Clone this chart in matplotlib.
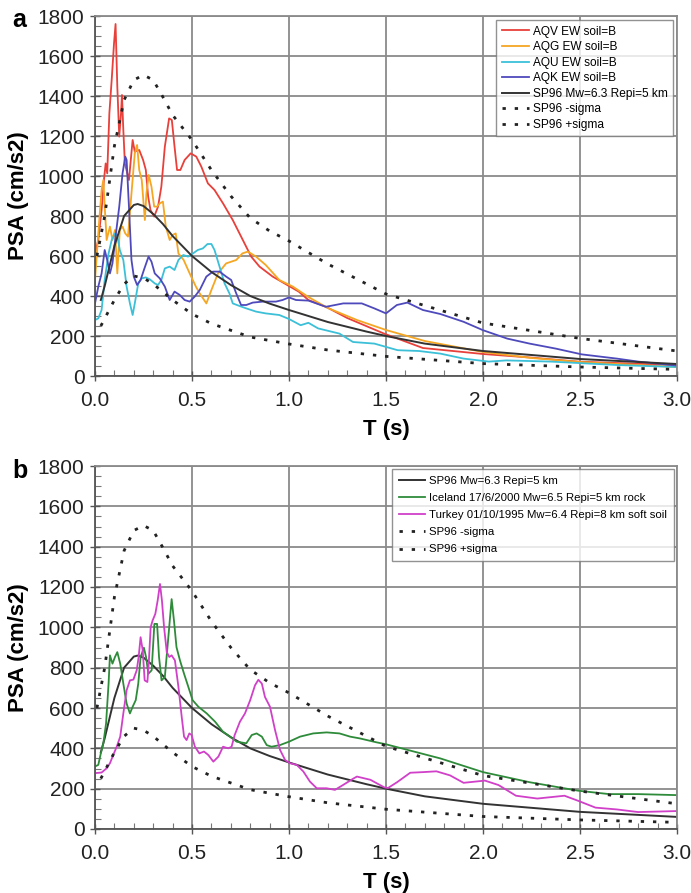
import matplotlib
matplotlib.use("Agg")
import matplotlib.pyplot as plt
from matplotlib.ticker import MultipleLocator
import numpy as np

plt.rcParams['font.family'] = ['Liberation Sans', 'DejaVu Sans']

# ---------------- data ----------------
sp96_T   = [0.03, 0.05, 0.1, 0.15, 0.2, 0.22, 0.25, 0.3, 0.35, 0.4, 0.5, 0.6, 0.7, 0.8, 0.9, 1.0, 1.2, 1.4, 1.5, 1.7, 2.0, 2.5, 3.0]
sp96_psa = [380, 450, 650, 800, 855, 860, 850, 810, 760, 700, 600, 520, 455, 400, 362, 330, 270, 222, 200, 162, 125, 85, 60]

plus_T   = [0.01, 0.05, 0.1, 0.15, 0.2, 0.25, 0.3, 0.35, 0.4, 0.5, 0.6, 0.7, 0.8, 0.9, 1.0, 1.2, 1.5, 2.0, 2.5, 3.0]
plus_psa = [600, 800, 1150, 1380, 1480, 1505, 1480, 1395, 1305, 1180, 1030, 900, 790, 725, 675, 560, 410, 265, 188, 125]

minus_T   = [0.03, 0.1, 0.15, 0.2, 0.25, 0.3, 0.4, 0.5, 0.6, 0.8, 1.0, 1.2, 1.5, 2.0, 2.5, 3.0]
minus_psa = [250, 380, 460, 500, 490, 460, 380, 310, 262, 195, 160, 130, 98, 62, 45, 33]

aqv_T   = [0.0, 0.017, 0.034, 0.046, 0.055, 0.063, 0.074, 0.086, 0.098, 0.106, 0.115, 0.125, 0.134, 0.139, 0.146, 0.154,
           0.175, 0.194, 0.205, 0.228, 0.248, 0.262, 0.274, 0.286, 0.305, 0.325, 0.342, 0.36, 0.382, 0.396, 0.41, 0.423,
           0.44, 0.462, 0.493, 0.522, 0.548, 0.582, 0.616, 0.66, 0.71, 0.762, 0.805, 0.848, 0.916, 1.0, 1.05, 1.1, 1.19,
           1.3, 1.49, 1.69, 2.0, 2.25, 2.49, 3.0]
aqv_psa = [613, 680, 830, 980, 1063, 1013, 1313, 1480, 1663, 1760, 1447, 1197, 1313, 1405, 1230, 1063,
           980, 1180, 1122, 1130, 1080, 1030, 897, 830, 797, 847, 947, 1147, 1288, 1280, 1147, 1030,
           1030, 1080, 1113, 1097, 1047, 963, 930, 863, 780, 680, 597, 547, 497, 450, 422, 380, 346,
           290, 212, 140, 110, 92, 72, 54]

aqg_T   = [0.0, 0.022, 0.034, 0.043, 0.05, 0.06, 0.077, 0.09, 0.103, 0.115, 0.128, 0.142, 0.156, 0.17, 0.188, 0.205,
           0.217, 0.228, 0.241, 0.257, 0.265, 0.277, 0.291, 0.305, 0.32, 0.334, 0.35, 0.365, 0.385, 0.40, 0.416, 0.43,
           0.457, 0.488, 0.52, 0.54, 0.574, 0.6, 0.634, 0.676, 0.728, 0.76, 0.788, 0.83, 0.88, 0.95, 1.02, 1.1, 1.2,
           1.35, 1.5, 1.7, 2.0, 2.25, 2.5, 3.0]
aqg_psa = [480, 780, 930, 980, 847, 680, 747, 680, 730, 513, 730, 747, 713, 697, 913, 1113,
           1155, 1030, 980, 780, 913, 1005, 947, 847, 847, 863, 872, 747, 680, 705, 713, 613,
           580, 513, 447, 413, 363, 430, 513, 563, 580, 613, 622, 597, 555, 480, 447, 395, 340,
           280, 230, 175, 120, 90, 70, 45]

aqu_T   = [0.0, 0.017, 0.034, 0.05, 0.07, 0.086, 0.103, 0.115, 0.128, 0.146, 0.163, 0.18, 0.194, 0.205, 0.223, 0.24,
           0.262, 0.283, 0.308, 0.325, 0.342, 0.36, 0.385, 0.41, 0.43, 0.455, 0.48, 0.505, 0.53, 0.556, 0.58, 0.6,
           0.616, 0.642, 0.668, 0.693, 0.71, 0.745, 0.78, 0.83, 0.88, 0.95, 1.0, 1.06, 1.1, 1.15, 1.26, 1.33, 1.44,
           1.56, 1.67, 1.78, 1.9, 2.03, 2.12, 2.35, 2.69, 3.0]
aqu_psa = [280, 288, 330, 480, 613, 680, 713, 700, 630, 580, 447, 363, 305, 363, 463, 488,
           493, 483, 463, 455, 480, 538, 547, 530, 580, 605, 597, 613, 630, 638, 660, 660,
           630, 547, 463, 413, 363, 350, 338, 322, 313, 305, 285, 254, 266, 238, 212, 170, 162,
           129, 125, 112, 87, 72, 78, 72, 55, 45]

aqk_T   = [0.0, 0.017, 0.034, 0.05, 0.063, 0.077, 0.09, 0.108, 0.125, 0.142, 0.156, 0.163, 0.175, 0.188, 0.2, 0.217,
           0.235, 0.252, 0.276, 0.291, 0.308, 0.334, 0.36, 0.385, 0.41, 0.437, 0.462, 0.488, 0.514, 0.54, 0.574, 0.608,
           0.642, 0.676, 0.702, 0.728, 0.753, 0.78, 0.813, 0.865, 0.933, 0.967, 1.0, 1.036, 1.1, 1.19, 1.28, 1.375,
           1.44, 1.5, 1.556, 1.61, 1.69, 1.78, 1.9, 2.0, 2.125, 2.24, 2.375, 2.51, 2.69, 2.8, 3.0]
aqk_psa = [363, 447, 513, 630, 580, 513, 563, 713, 847, 1013, 1097, 1080, 847, 580, 497, 455,
           480, 530, 597, 572, 513, 488, 447, 380, 422, 405, 380, 372, 397, 430, 497, 522,
           522, 497, 480, 413, 355, 355, 367, 372, 372, 380, 393, 380, 377, 346, 363, 363,
           338, 313, 355, 367, 330, 310, 271, 229, 187, 162, 137, 108, 87, 72, 52]

ice_T   = [0.0, 0.017, 0.03, 0.043, 0.057, 0.07, 0.077, 0.09, 0.103, 0.115, 0.13, 0.146, 0.163, 0.18, 0.194, 0.21,
           0.223, 0.235, 0.252, 0.263, 0.275, 0.292, 0.306, 0.32, 0.33, 0.343, 0.36, 0.378, 0.395, 0.407, 0.42, 0.438,
           0.459, 0.481, 0.503, 0.533, 0.576, 0.619, 0.66, 0.696, 0.73, 0.78, 0.808, 0.833, 0.86, 0.885, 0.91, 0.953,
           1.0, 1.057, 1.125, 1.194, 1.26, 1.315, 1.366, 1.45, 1.5, 1.6, 1.78, 2.0, 2.24, 2.49, 2.65, 2.8, 3.0]
ice_psa = [310, 318, 375, 425, 523, 721, 861, 820, 853, 877, 820, 721, 622, 573, 606, 639,
           721, 853, 899, 853, 770, 787, 1017, 1017, 853, 737, 754, 951, 1140, 1034, 902, 836,
           770, 705, 639, 606, 573, 532, 482, 458, 433, 425, 466, 474, 458, 416, 408, 416,
           433, 458, 474, 479, 474, 458, 449, 430, 420, 395, 350, 282, 232, 190, 173, 173, 168]

tur_T   = [0.0, 0.034, 0.06, 0.077, 0.094, 0.112, 0.13, 0.146, 0.163, 0.18, 0.198, 0.215, 0.225, 0.235, 0.246, 0.256,
           0.27, 0.277, 0.287, 0.297, 0.311, 0.323, 0.335, 0.345, 0.356, 0.37, 0.383, 0.395, 0.412, 0.43, 0.447, 0.459,
           0.472, 0.486, 0.498, 0.515, 0.538, 0.562, 0.584, 0.61, 0.636, 0.66, 0.687, 0.704, 0.72, 0.747, 0.773, 0.8,
           0.825, 0.842, 0.86, 0.876, 0.902, 0.928, 0.954, 0.98, 1.005, 1.04, 1.074, 1.108, 1.143, 1.194, 1.237, 1.28,
           1.33, 1.35, 1.42, 1.49, 1.51, 1.557, 1.625, 1.69, 1.76, 1.83, 1.9, 2.01, 2.08, 2.17, 2.28, 2.42, 2.49, 2.58,
           2.69, 2.8, 3.0]
tur_psa = [277, 280, 301, 326, 367, 408, 458, 573, 688, 737, 741, 787, 853, 951, 886, 737,
           729, 820, 1001, 1034, 1067, 1133, 1215, 1133, 1001, 877, 853, 861, 836, 705, 556, 458,
           441, 474, 466, 408, 375, 384, 367, 334, 359, 408, 400, 408, 466, 532, 573, 639,
           713, 740, 721, 655, 606, 491, 392, 342, 326, 318, 285, 235, 202, 202, 194, 219,
           249, 260, 244, 207, 203, 232, 279, 282, 286, 266, 229, 240, 218, 165, 151, 165, 140, 106,
           97, 84, 89]

labels_a = ['AQV EW soil=B', 'AQG EW soil=B', 'AQU EW soil=B', 'AQK EW soil=B',
            'SP96 Mw=6.3 Repi=5 km', 'SP96 -sigma', 'SP96 +sigma']
labels_b = ['SP96 Mw=6.3 Repi=5 km', 'Iceland 17/6/2000 Mw=6.5 Repi=5 km rock',
            'Turkey 01/10/1995 Mw=6.4 Repi=8 km soft soil', 'SP96 -sigma', 'SP96 +sigma']

# ---------------- figure ----------------
fig = plt.figure(figsize=(6.91, 8.93), dpi=100)
W, H = 691, 893
axA = fig.add_axes([95 / W, 1 - 376 / H, (677 - 95) / W, (376 - 16) / H])
axB = fig.add_axes([95 / W, 1 - 829 / H, (677 - 95) / W, (829 - 466) / H])

dot = (0, (1.2, 3.2))
c_red, c_orange, c_cyan, c_purple = '#e8403a', '#f5a623', '#3cc0d8', '#4e4abc'
c_green, c_mag = '#2e8b3a', '#d040c8'
c_black = '#333333'


def style(ax):
    ax.set_xlim(0, 3.0)
    ax.set_ylim(0, 1800)
    ax.xaxis.set_major_locator(MultipleLocator(0.5))
    ax.xaxis.set_minor_locator(MultipleLocator(0.1))
    ax.yaxis.set_major_locator(MultipleLocator(200))
    ax.yaxis.set_minor_locator(MultipleLocator(50))
    ax.xaxis.set_major_formatter(matplotlib.ticker.FormatStrFormatter('%.1f'))
    ax.grid(True, which='major', color='#8a8a8a', lw=1.3)
    ax.set_axisbelow(True)
    for s in ax.spines.values():
        s.set_color('#8a8a8a')
        s.set_linewidth(1.3)
    ax.spines['left'].set_color('#555555')
    ax.spines['bottom'].set_color('#555555')
    ax.tick_params(which='major', direction='inout', length=7, width=1, colors='#555555',
                   labelsize=15, labelcolor='#222222')
    ax.tick_params(axis='x', which='major', pad=7)
    ax.tick_params(axis='y', which='major', pad=4)
    ax.tick_params(which='minor', direction='in', length=4, width=0.8, colors='#777777')
    ax.tick_params(top=False, right=False, which='both')
    ax.set_xlabel('T (s)', fontsize=16, fontweight='bold', labelpad=7)
    ax.set_ylabel('PSA (cm/s2)', fontsize=16, fontweight='bold', labelpad=6)


# panel a
axA.plot(aqv_T, aqv_psa, color=c_red, lw=1.3, label=labels_a[0])
axA.plot(aqg_T, aqg_psa, color=c_orange, lw=1.3, label=labels_a[1])
axA.plot(aqu_T, aqu_psa, color=c_cyan, lw=1.3, label=labels_a[2])
axA.plot(aqk_T, aqk_psa, color=c_purple, lw=1.3, label=labels_a[3])
axA.plot(sp96_T, sp96_psa, color=c_black, lw=1.4, label=labels_a[4])
axA.plot(minus_T, minus_psa, color='#222222', lw=2, ls=dot, label=labels_a[5])
axA.plot(plus_T, plus_psa, color='#222222', lw=2, ls=dot, label=labels_a[6])
style(axA)
legA = axA.legend(loc='upper right', fontsize=8.6, frameon=True, fancybox=False,
                  edgecolor='#777777', handlelength=2.3, labelspacing=0.3,
                  borderpad=0.45, handletextpad=0.3, borderaxespad=0.35)
legA.get_frame().set_linewidth(1.0)

# panel b
axB.plot(sp96_T, sp96_psa, color=c_black, lw=1.4, label=labels_b[0])
axB.plot(ice_T, ice_psa, color=c_green, lw=1.3, label=labels_b[1])
axB.plot(tur_T, tur_psa, color=c_mag, lw=1.3, label=labels_b[2])
axB.plot(minus_T, minus_psa, color='#222222', lw=2, ls=dot, label=labels_b[3])
axB.plot(plus_T, plus_psa, color='#222222', lw=2, ls=dot, label=labels_b[4])
style(axB)
legB = axB.legend(loc='upper right', fontsize=8.2, frameon=True, fancybox=False,
                  edgecolor='#777777', handlelength=2.3, labelspacing=0.62,
                  borderpad=0.6, handletextpad=0.3, borderaxespad=0.3)
legB.get_frame().set_linewidth(1.0)

fig.text(12 / W, 1 - 20 / H, 'a', fontsize=18, fontweight='bold', ha='left', va='center')
fig.text(12 / W, 1 - 471 / H, 'b', fontsize=18, fontweight='bold', ha='left', va='center')

fig.savefig('out.png', dpi=100)
